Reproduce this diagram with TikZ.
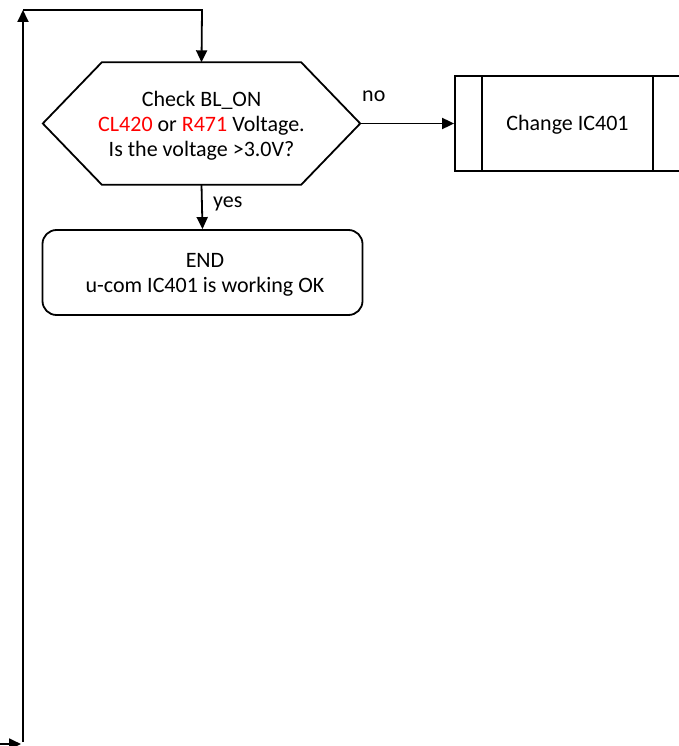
\documentclass[tikz,border=0pt]{standalone}
\usepackage{fontspec}
\setmainfont{Carlito}
\usetikzlibrary{arrows.meta}
\begin{document}
\begin{tikzpicture}[x=1pt,y=-1pt,
  line/.style={line width=1.8pt, draw=black},
  arr/.style={line, -{Triangle[length=12pt,width=11pt]}},
  txt/.style={font=\fontsize{22}{25}\selectfont, align=center, text=black, inner sep=0pt},
  lbl/.style={font=\fontsize{22}{25}\selectfont, text=black, inner sep=0pt},
  proc/.style={line, minimum width=225pt, minimum height=95pt, inner sep=0pt},
  endbox/.style={line, rounded corners=14pt, minimum width=320pt, minimum height=85pt, inner sep=0pt}
]
\useasboundingbox (0,0) rectangle (678,746);

% decision hexagon
\node[inner sep=0pt, minimum width=317pt, minimum height=122pt] (dec) at (201.5,123.5) {};
\draw[line, line join=miter] (dec.west) -- ([xshift=59pt]dec.north west) -- ([xshift=-59pt]dec.north east)
  -- (dec.east) -- ([xshift=-59pt]dec.south east) -- ([xshift=59pt]dec.south west) -- cycle;
\node[txt] (dect) at (201.5,126)
  {Check BL\_ON\\ \textcolor{red}{CL420} or \textcolor{red}{R471} Voltage.\\ Is the voltage >3.0V?};

% predefined process
\node[proc] (chg) at (567.5,123.5) {};
\draw[line] ([xshift=28pt]chg.north west) -- ([xshift=28pt]chg.south west);
\draw[line] ([xshift=-28pt]chg.north east) -- ([xshift=-28pt]chg.south east);
\node[txt] (chgt) at (567.5,125) {Change IC401};

% end box
\node[endbox] (end) at (202.5,272.5) {};
\node[txt] (endt) at (205,275) {END\\ u-com IC401 is working OK};

% connectors
\draw[arr] (dec.east) -- (chg.west);
\node[lbl, anchor=west] (no) at (362,96) {no};
\draw[arr] (dec.south) -- (end.north);
\node[lbl, anchor=west] (yes) at (213,204) {yes};

% loop back
\coordinate (bl) at (23,742);
\coordinate (tl) at (23,10);
\coordinate (tr) at (202,10);
\draw[arr] (bl) -- (tl);
\draw[arr] (tl) -- (tr) -- (dec.north);

\coordinate (in0) at (0,744);
\coordinate (in1) at (21,744);
\draw[arr] (in0) -- (in1);
\end{tikzpicture}
\end{document}
